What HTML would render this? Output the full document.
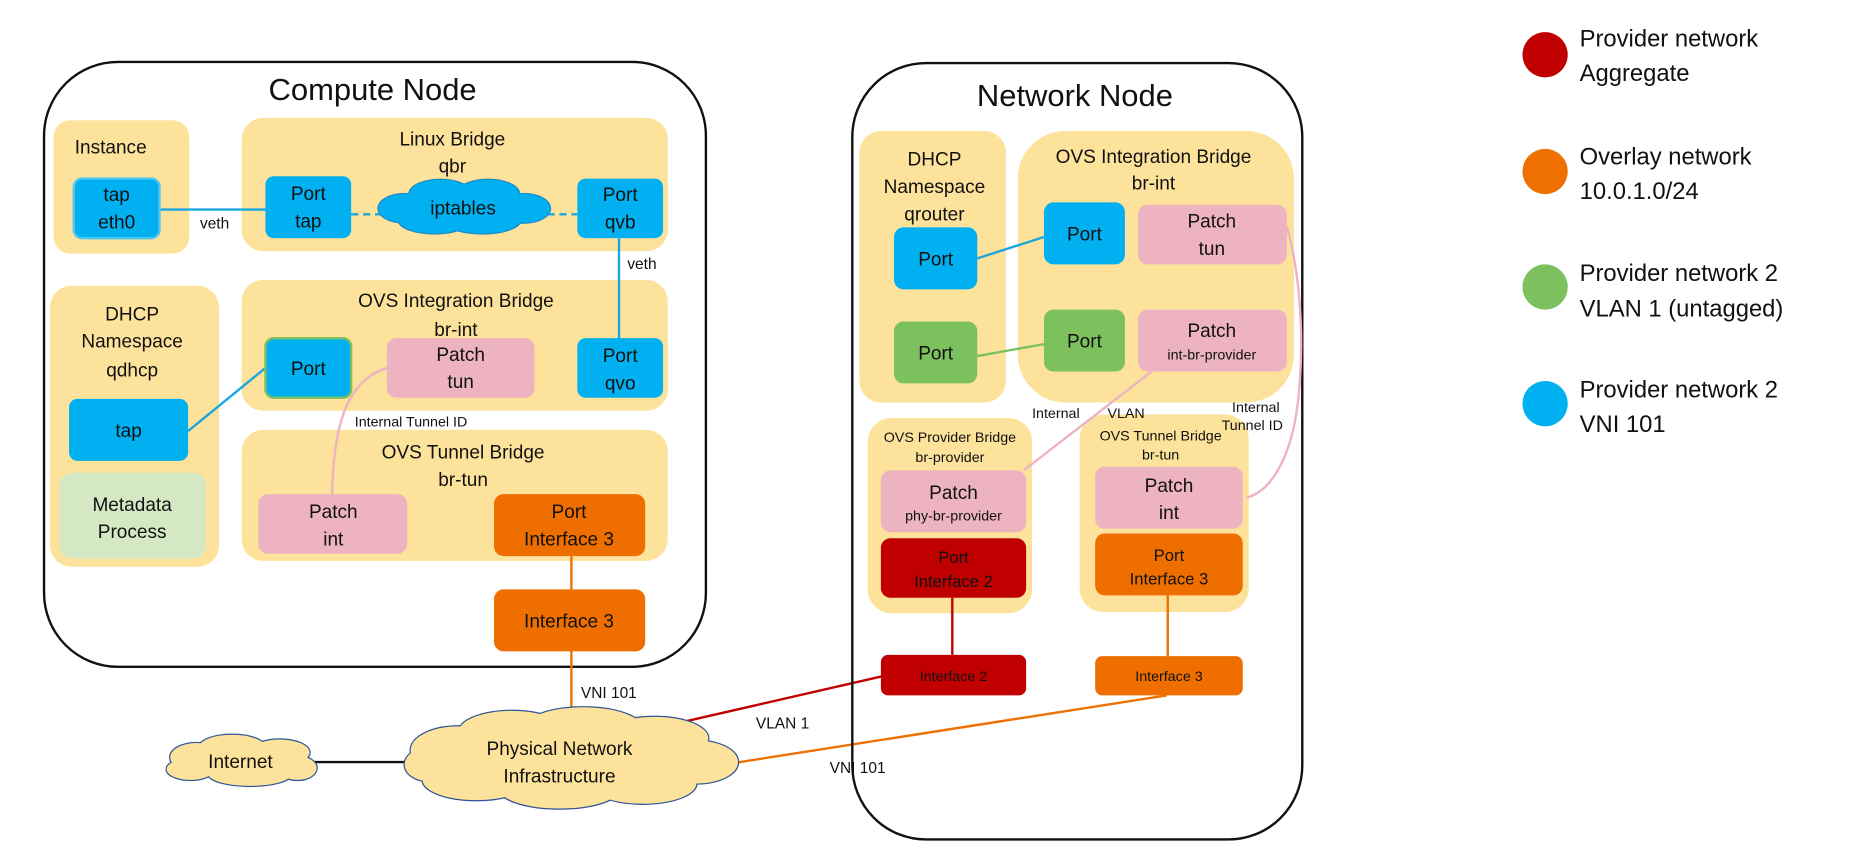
<!DOCTYPE html>
<html><head><meta charset="utf-8"><style>
html,body{margin:0;padding:0;background:#fff;}
svg{display:block;}
text{font-family:"Liberation Sans",sans-serif;fill:#111;}
</style></head><body>
<svg width="1857" height="849" viewBox="0 0 1560 713" preserveAspectRatio="none" xmlns="http://www.w3.org/2000/svg">
<!-- Compute Node -->
<rect x="37" y="52" width="556" height="508" rx="62" fill="#fff" stroke="#111" stroke-width="2"/>
<text x="313" y="84" font-size="26" text-anchor="middle">Compute Node</text>

<g fill="#FCE29B">
<rect x="45" y="101" width="114" height="112" rx="14"/>
<rect x="203" y="99" width="358" height="112" rx="18"/>
<rect x="42" y="240" width="142" height="236" rx="18"/>
<rect x="203" y="235" width="358" height="110" rx="18"/>
<rect x="203" y="361" width="358" height="110" rx="18"/>
</g>
<g font-size="16" text-anchor="middle">
<text x="93" y="129">Instance</text>
<text x="380" y="122">Linux Bridge</text><text x="380" y="145">qbr</text>
<text x="111" y="269">DHCP</text><text x="111" y="292">Namespace</text><text x="111" y="316">qdhcp</text>
<text x="383" y="258">OVS Integration Bridge</text><text x="383" y="282">br-int</text>
<text x="389" y="385">OVS Tunnel Bridge</text><text x="389" y="408">br-tun</text>
</g>

<!-- lines compute -->
<line x1="134" y1="176" x2="223" y2="176" stroke="#1AA7E0" stroke-width="2"/>
<line x1="295" y1="180" x2="330" y2="180" stroke="#1AA7E0" stroke-width="2" stroke-dasharray="6,4"/>
<line x1="450" y1="180" x2="485" y2="180" stroke="#1AA7E0" stroke-width="2" stroke-dasharray="6,4"/>
<line x1="520" y1="200" x2="520" y2="285" stroke="#1AA7E0" stroke-width="2"/>
<line x1="158" y1="362" x2="223" y2="309" stroke="#1AA7E0" stroke-width="2"/>
<path d="M325 309 C290 320 280 360 279 415" fill="none" stroke="#EDB3C0" stroke-width="2"/>
<line x1="480" y1="467" x2="480" y2="605" stroke="#EE7000" stroke-width="2"/>
<text x="168" y="192" font-size="13">veth</text>
<text x="527" y="226" font-size="13">veth</text>
<text x="298" y="358" font-size="12">Internal Tunnel ID</text>
<text x="488" y="586" font-size="13">VNI 101</text>

<!-- compute boxes -->
<g font-size="16" text-anchor="middle">
<rect x="62" y="150" width="72" height="50" rx="7" fill="#00B0F0" stroke="#4DC6F2" stroke-width="2"/>
<text x="98" y="169">tap</text><text x="98" y="192">eth0</text>
<rect x="223" y="148" width="72" height="52" rx="7" fill="#00B0F0"/>
<text x="259" y="168">Port</text><text x="259" y="191">tap</text>
<rect x="485" y="150" width="72" height="50" rx="7" fill="#00B0F0"/>
<text x="521" y="169">Port</text><text x="521" y="192">qvb</text>
<rect x="58" y="335" width="100" height="52" rx="7" fill="#00B0F0"/>
<text x="108" y="367">tap</text>
<rect x="50" y="397" width="123" height="72" rx="10" fill="#D5E8C4"/>
<text x="111" y="429">Metadata</text><text x="111" y="452">Process</text>
<rect x="223" y="284" width="72" height="50" rx="7" fill="#00B0F0" stroke="#7DC15F" stroke-width="2"/>
<text x="259" y="315">Port</text>
<rect x="325" y="284" width="124" height="50" rx="8" fill="#EDB3C0"/>
<text x="387" y="303">Patch</text><text x="387" y="326">tun</text>
<rect x="485" y="284" width="72" height="50" rx="7" fill="#00B0F0"/>
<text x="521" y="304">Port</text><text x="521" y="327">qvo</text>
<rect x="217" y="415" width="125" height="50" rx="8" fill="#EDB3C0"/>
<text x="280" y="435">Patch</text><text x="280" y="458">int</text>
<rect x="415" y="415" width="127" height="52" rx="8" fill="#EE6E00"/>
<text x="478" y="435">Port</text><text x="478" y="458">Interface 3</text>
<rect x="415" y="495" width="127" height="52" rx="8" fill="#EE6E00"/>
<text x="478" y="527">Interface 3</text>
</g>

<!-- iptables cloud -->
<g stroke="#1E88C8" stroke-width="2" fill="#00B0F0">
<ellipse cx="340" cy="175" rx="22" ry="12"/><ellipse cx="370" cy="163" rx="26" ry="12"/><ellipse cx="410" cy="163" rx="26" ry="12"/><ellipse cx="440" cy="175" rx="22" ry="12"/><ellipse cx="405" cy="185" rx="32" ry="11"/><ellipse cx="365" cy="185" rx="30" ry="11"/>
</g>
<g fill="#00B0F0">
<ellipse cx="340" cy="175" rx="22" ry="12"/><ellipse cx="370" cy="163" rx="26" ry="12"/><ellipse cx="410" cy="163" rx="26" ry="12"/><ellipse cx="440" cy="175" rx="22" ry="12"/><ellipse cx="405" cy="185" rx="32" ry="11"/><ellipse cx="365" cy="185" rx="30" ry="11"/><rect x="340" y="163" width="100" height="22"/>
</g>
<text x="389" y="180" font-size="16" text-anchor="middle">iptables</text>

<!-- bottom connections -->
<line x1="262" y1="640" x2="345" y2="640" stroke="#111" stroke-width="2"/>
<line x1="575" y1="606" x2="741" y2="568" stroke="#C00000" stroke-width="2"/>
<line x1="615" y1="641" x2="980" y2="584" stroke="#EE7000" stroke-width="2"/>
<text x="635" y="612" font-size="13">VLAN 1</text>
<text x="697" y="649" font-size="13">VNI 101</text>

<!-- Physical cloud -->
<g stroke="#2F5597" stroke-width="2" fill="#FCE29B">
<ellipse cx="385" cy="630" rx="40" ry="20"/><ellipse cx="430" cy="615" rx="45" ry="18"/><ellipse cx="490" cy="612" rx="50" ry="18"/><ellipse cx="550" cy="620" rx="45" ry="18"/><ellipse cx="585" cy="640" rx="35" ry="18"/><ellipse cx="540" cy="658" rx="45" ry="17"/><ellipse cx="470" cy="663" rx="50" ry="16"/><ellipse cx="400" cy="655" rx="45" ry="17"/><ellipse cx="360" cy="642" rx="20" ry="14"/>
</g>
<g fill="#FCE29B">
<ellipse cx="385" cy="630" rx="40" ry="20"/><ellipse cx="430" cy="615" rx="45" ry="18"/><ellipse cx="490" cy="612" rx="50" ry="18"/><ellipse cx="550" cy="620" rx="45" ry="18"/><ellipse cx="585" cy="640" rx="35" ry="18"/><ellipse cx="540" cy="658" rx="45" ry="17"/><ellipse cx="470" cy="663" rx="50" ry="16"/><ellipse cx="400" cy="655" rx="45" ry="17"/><ellipse cx="360" cy="642" rx="20" ry="14"/><rect x="370" y="615" width="210" height="45"/>
</g>
<text x="470" y="634" font-size="16" text-anchor="middle">Physical Network</text>
<text x="470" y="657" font-size="16" text-anchor="middle">Infrastructure</text>

<!-- Internet cloud -->
<g stroke="#2F5597" stroke-width="2" fill="#FCE29B">
<ellipse cx="165" cy="636" rx="22" ry="12"/><ellipse cx="195" cy="628" rx="28" ry="11"/><ellipse cx="235" cy="632" rx="25" ry="11"/><ellipse cx="250" cy="645" rx="16" ry="10"/><ellipse cx="210" cy="650" rx="35" ry="10"/><ellipse cx="160" cy="646" rx="20" ry="9"/>
</g>
<g fill="#FCE29B">
<ellipse cx="165" cy="636" rx="22" ry="12"/><ellipse cx="195" cy="628" rx="28" ry="11"/><ellipse cx="235" cy="632" rx="25" ry="11"/><ellipse cx="250" cy="645" rx="16" ry="10"/><ellipse cx="210" cy="650" rx="35" ry="10"/><ellipse cx="160" cy="646" rx="20" ry="9"/><rect x="160" y="628" width="90" height="20"/>
</g>
<text x="202" y="645" font-size="16" text-anchor="middle">Internet</text>

<!-- Network Node -->
<rect x="716" y="53" width="378" height="652" rx="62" fill="none" stroke="#111" stroke-width="2"/>
<text x="903" y="89" font-size="26" text-anchor="middle">Network Node</text>
<g fill="#FCE29B">
<rect x="722" y="110" width="123" height="228" rx="18"/>
<rect x="855" y="110" width="232" height="228" rx="40"/>
<rect x="729" y="351" width="138" height="164" rx="20"/>
<rect x="907" y="348" width="142" height="166" rx="20"/>
</g>
<g font-size="16" text-anchor="middle">
<text x="785" y="139">DHCP</text><text x="785" y="162">Namespace</text><text x="785" y="185">qrouter</text>
<text x="969" y="137">OVS Integration Bridge</text><text x="969" y="159">br-int</text>
</g>
<g font-size="12" text-anchor="middle">
<text x="798" y="371">OVS Provider Bridge</text><text x="798" y="388">br-provider</text>
<text x="975" y="370">OVS Tunnel Bridge</text><text x="975" y="386">br-tun</text>
<text x="887" y="351">Internal</text><text x="946" y="351">VLAN</text>
<text x="1055" y="346">Internal</text><text x="1052" y="361">Tunnel ID</text>
</g>
<line x1="821" y1="217" x2="877" y2="199" stroke="#1AA7E0" stroke-width="2"/>
<line x1="821" y1="299" x2="877" y2="289" stroke="#7DC15F" stroke-width="2"/>
<line x1="970" y1="310" x2="860" y2="395" stroke="#EDB3C0" stroke-width="2"/>
<path d="M1081 190 C1095 240 1095 300 1090 340 C1085 380 1070 412 1047 418" fill="none" stroke="#EDB3C0" stroke-width="2"/>
<line x1="800" y1="502" x2="800" y2="550" stroke="#C00000" stroke-width="2"/>
<line x1="981" y1="500" x2="981" y2="551" stroke="#EE7000" stroke-width="2"/>

<g font-size="16" text-anchor="middle">
<rect x="751" y="191" width="70" height="52" rx="8" fill="#00B0F0"/><text x="786" y="223">Port</text>
<rect x="751" y="270" width="70" height="52" rx="8" fill="#7DC15F"/><text x="786" y="302">Port</text>
<rect x="877" y="170" width="68" height="52" rx="8" fill="#00B0F0"/><text x="911" y="202">Port</text>
<rect x="877" y="260" width="68" height="52" rx="8" fill="#7DC15F"/><text x="911" y="292">Port</text>
<rect x="956" y="172" width="125" height="50" rx="8" fill="#EDB3C0"/><text x="1018" y="191">Patch</text><text x="1018" y="214">tun</text>
<rect x="956" y="260" width="125" height="52" rx="8" fill="#EDB3C0"/><text x="1018" y="283">Patch</text>
<rect x="740" y="395" width="122" height="52" rx="8" fill="#EDB3C0"/><text x="801" y="419">Patch</text>
<rect x="920" y="392" width="124" height="52" rx="8" fill="#EDB3C0"/><text x="982" y="413">Patch</text><text x="982" y="436">int</text>
</g>
<g font-size="12" text-anchor="middle">
<text x="1018" y="302">int-br-provider</text>
<text x="801" y="437">phy-br-provider</text>
</g>
<g font-size="14" text-anchor="middle" >
<rect x="740" y="452" width="122" height="50" rx="8" fill="#C00000"/><text x="801" y="473" fill="#2a0000">Port</text><text x="801" y="493" fill="#2a0000">Interface 2</text>
<rect x="920" y="448" width="124" height="52" rx="8" fill="#EE6E00"/><text x="982" y="471">Port</text><text x="982" y="491">Interface 3</text>
</g>
<g font-size="12" text-anchor="middle">
<rect x="740" y="550" width="122" height="34" rx="6" fill="#C00000"/><text x="801" y="572" fill="#2a0000">Interface 2</text>
<rect x="920" y="551" width="124" height="33" rx="6" fill="#EE6E00"/><text x="982" y="572">Interface 3</text>
</g>

<!-- Legend -->
<circle cx="1298" cy="46" r="19" fill="#C00000"/>
<circle cx="1298" cy="144" r="19" fill="#EE7000"/>
<circle cx="1298" cy="241" r="19" fill="#7DC15F"/>
<circle cx="1298" cy="339" r="19" fill="#00B0F0"/>
<g font-size="20">
<text x="1327" y="39">Provider network</text><text x="1327" y="68">Aggregate</text>
<text x="1327" y="138">Overlay network</text><text x="1327" y="167">10.0.1.0/24</text>
<text x="1327" y="236">Provider network 2</text><text x="1327" y="266">VLAN 1 (untagged)</text>
<text x="1327" y="334">Provider network 2</text><text x="1327" y="363">VNI 101</text>
</g>
</svg>
</body></html>
